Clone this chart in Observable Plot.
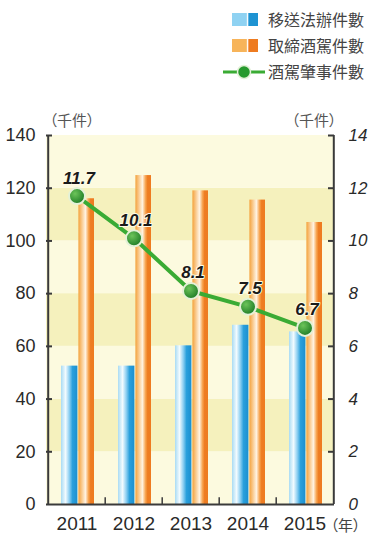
<!DOCTYPE html>
<html><head><meta charset="utf-8">
<script src="https://cdn.jsdelivr.net/npm/d3@7"></script>
<script src="https://cdn.jsdelivr.net/npm/@observablehq/plot@0.6"></script>
<style>
html,body{margin:0;padding:0;background:#fff;}
#wrap{position:relative;width:371px;height:534px;overflow:hidden;}
#legend{position:absolute;left:0;top:0;}
#chart{position:absolute;left:0;top:0;}
</style></head><body>
<div id="wrap"><div id="chart"></div><div id="legend"></div></div>
<script>
// ---- data (千件) ----
const years = ["2011", "2012", "2013", "2014", "2015"];
const referred = [52.5, 52.5, 60.2, 68, 65.5];        // 移送法辦件數
const citations = [116, 124.8, 119, 115.5, 107];      // 取締酒駕件數
const crashes = [11.7, 10.1, 8.1, 7.5, 6.7];          // 酒駕肇事件數
const seriesNames = ["移送法辦件數", "取締酒駕件數", "酒駕肇事件數"];
const leftTicks = [0, 20, 40, 60, 80, 100, 120, 140];
const leftMax = 140;
const rightMax = 14;
const unitLabel = "（千件）";
const yearLabel = "（年）";

// ---- layout / style ----
const W = 371, H = 534;
const mL = 46, mR = 37, mT = 135, mB = 30;
const bandW = (W - mL - mR) / years.length;
const ratio = leftMax / rightMax;
const NARROW = '"Liberation Sans Narrow", "Arial Narrow", "Liberation Sans", sans-serif';
const SANS = '"Liberation Sans", Arial, sans-serif';
const CJK = '"Noto Sans CJK TC", "Noto Sans CJK SC", sans-serif';
const axisColor = "#3a3a3a";

const barData = years.map((y, i) => ({year: y, referred: referred[i], citations: citations[i]}));
const lineData = years.map((y, i) => ({year: y, v: crashes[i]}));
const bands = d3.pairs(leftTicks).map(([a, b], i) => ({y1: a, y2: b, fill: i % 2 === 0 ? "#fcfadf" : "#f5f1bd"}));

const chart = Plot.plot({
  width: W, height: H,
  marginLeft: mL, marginRight: mR, marginTop: mT, marginBottom: mB,
  style: {background: "transparent", color: "#222", fontFamily: SANS},
  x: {type: "band", domain: years, padding: 0},
  y: {domain: [0, leftMax]},
  marks: [
    Plot.rectY(bands, {y1: "y1", y2: "y2", fill: "fill"}),
    Plot.barY(barData, {x: "year", y: "referred", fill: "url(#gBlue)", insetLeft: 13, insetRight: 27.6}),
    Plot.barY(barData, {x: "year", y: "citations", fill: "url(#gOrange)", insetLeft: 30.4, insetRight: 11}),
    // axis frame lines
    Plot.ruleY([0], {stroke: axisColor, strokeWidth: 2}),
    Plot.ruleX([years[0]], {y1: 0, y2: leftMax, dx: -bandW / 2, stroke: axisColor, strokeWidth: 2}),
    Plot.ruleX([years[years.length - 1]], {y1: 0, y2: leftMax, dx: bandW / 2, stroke: axisColor, strokeWidth: 2}),
    // inward ticks
    Plot.tickY(leftTicks.slice(1), {y: d => d, insetRight: W - mL - mR - 6, stroke: axisColor, strokeWidth: 2}),
    Plot.tickY(leftTicks.slice(1), {y: d => d, insetLeft: W - mL - mR - 6, stroke: axisColor, strokeWidth: 2}),
    Plot.ruleX(years.slice(1), {y1: 0, y2: 2.6, dx: -bandW / 2, stroke: axisColor, strokeWidth: 1.5}),
    // line series on right scale
    Plot.line(lineData, {x: "year", y: d => d.v * ratio, stroke: "#3aab34", strokeWidth: 4}),
    Plot.dot(lineData, {x: "year", y: d => d.v * ratio, r: 8, fill: "url(#gPoint)", stroke: "#e4f1d8", strokeWidth: 2}),
    Plot.text(lineData, {x: "year", y: d => d.v * ratio, text: d => d.v.toFixed(1), dy: -18, dx: 2,
      fontSize: 17, fontWeight: "bold", fontStyle: "italic", fontFamily: SANS, fill: "#1a1a1a",
      stroke: "#fffbe6", strokeWidth: 2}),
    // axes
    Plot.axisY({anchor: "left", ticks: leftTicks, tickSize: 0, tickPadding: 11, label: null,
      fontSize: 18, fontFamily: NARROW, fill: "#2a2a2a"}),
    Plot.axisY({anchor: "right", ticks: leftTicks, tickFormat: d => d / ratio, tickSize: 0, tickPadding: 14, label: null,
      fontSize: 17, fontStyle: "italic", fontFamily: SANS, fill: "#2a2a2a"}),
    Plot.axisX({tickSize: 0, tickPadding: 12, label: null, fontSize: 19, fontFamily: NARROW, fill: "#2a2a2a"}),
    // unit labels
    Plot.text([unitLabel], {text: d => d, frameAnchor: "top-left", lineAnchor: "middle", textAnchor: "start", dx: 3, dy: -14,
      fontSize: 15, fontFamily: CJK, fill: "#555"}),
    Plot.text([unitLabel], {text: d => d, frameAnchor: "top-right", lineAnchor: "middle", textAnchor: "end", dx: 2, dy: -14,
      fontSize: 15, fontFamily: CJK, fill: "#555"}),
    Plot.text([yearLabel], {text: d => d, frameAnchor: "bottom-right", lineAnchor: "middle", textAnchor: "start", dx: -4, dy: 22,
      fontSize: 15, fontFamily: CJK, fill: "#444"})
  ]
});

// gradients
const svg = d3.select(chart);
const defs = svg.insert("defs", ":first-child");
function linGrad(id, stops) {
  const g = defs.append("linearGradient").attr("id", id).attr("x1", 0).attr("x2", 1).attr("y1", 0).attr("y2", 0);
  stops.forEach(([o, c]) => g.append("stop").attr("offset", o).attr("stop-color", c));
}
linGrad("gBlue", [[0, "#a9dbf3"], [0.28, "#f2fbff"], [0.5, "#8fd0f2"], [0.7, "#2aa0dc"], [1, "#1b8fd0"]]);
linGrad("gOrange", [[0, "#f4a23c"], [0.45, "#fff3e2"], [0.65, "#f7a450"], [0.78, "#ee7d22"], [1, "#ee7b20"]]);
const rg = defs.append("radialGradient").attr("id", "gPoint").attr("cx", "38%").attr("cy", "35%").attr("r", "65%");
rg.append("stop").attr("offset", 0).attr("stop-color", "#6cc45a");
rg.append("stop").attr("offset", 1).attr("stop-color", "#1f7d26");
svg.selectAll("text").filter(function () { return /（/.test(this.textContent); })
  .style("font-feature-settings", '"palt"');
document.getElementById("chart").appendChild(chart);

// legend
const lg = d3.select("#legend").append("svg").attr("width", W).attr("height", 90);
const ldefs = lg.append("defs");
function lGrad(id, a, b) {
  const g = ldefs.append("linearGradient").attr("id", id);
  g.append("stop").attr("offset", 0).attr("stop-color", a);
  g.append("stop").attr("offset", 0.55).attr("stop-color", a);
  g.append("stop").attr("offset", 0.6).attr("stop-color", "#fff");
  g.append("stop").attr("offset", 0.65).attr("stop-color", b);
  g.append("stop").attr("offset", 1).attr("stop-color", b);
}
lGrad("lgBlue", "#8fd2f2", "#1e93d2");
lGrad("lgOrange", "#f7b45a", "#ee7b20");
const rowY = [20, 46, 72];
lg.append("rect").attr("x", 232).attr("y", rowY[0] - 7).attr("width", 26).attr("height", 13).attr("fill", "url(#lgBlue)");
lg.append("rect").attr("x", 232).attr("y", rowY[1] - 7).attr("width", 26).attr("height", 13).attr("fill", "url(#lgOrange)");
lg.append("line").attr("x1", 223).attr("x2", 265).attr("y1", rowY[2]).attr("y2", rowY[2]).attr("stroke", "#3aab34").attr("stroke-width", 3);
lg.append("circle").attr("cx", 244).attr("cy", rowY[2]).attr("r", 6.5).attr("fill", "#279a2e").attr("stroke", "#e4f1d8").attr("stroke-width", 1.5);
seriesNames.forEach((n, i) => {
  lg.append("text").attr("x", 268).attr("y", rowY[i]).attr("dy", "0.36em").attr("font-size", 16)
    .attr("font-family", CJK).attr("fill", "#444").text(n);
});
</script>
</body></html>
